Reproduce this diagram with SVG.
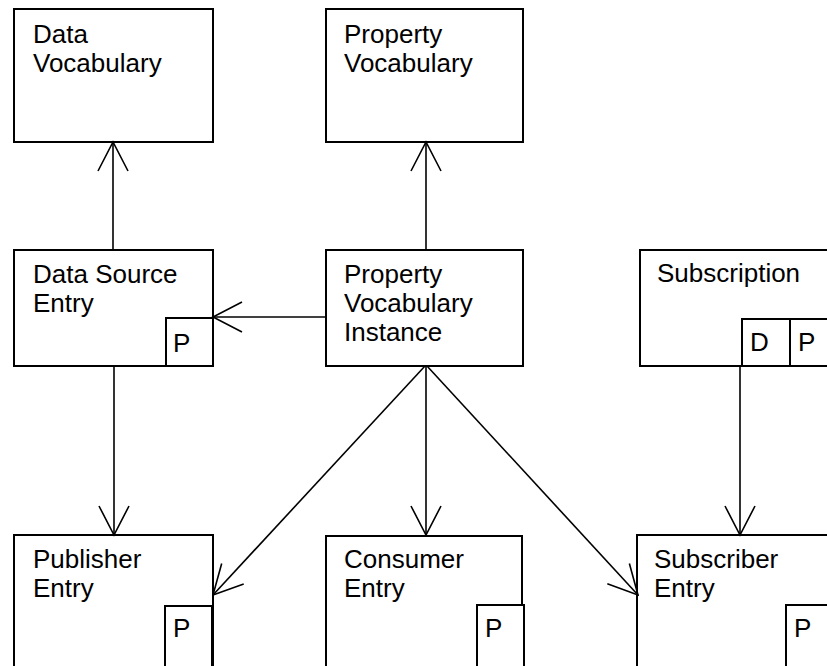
<svg xmlns="http://www.w3.org/2000/svg" width="827" height="666" viewBox="0 0 827 666">
  <defs>
    <style>
      .box { fill: #fff; stroke: #000; stroke-width: 2; }
      .tag { fill: #fff; stroke: #000; stroke-width: 2; }
      .label { font-family: "Liberation Sans", Arial, sans-serif; font-size: 26px; fill: #000; }
      .conn { fill: none; stroke: #000; stroke-width: 1.6; }
    </style>
    <marker id="open" viewBox="0 0 32 32" refX="30" refY="16" markerWidth="32" markerHeight="32" markerUnits="userSpaceOnUse" orient="auto">
      <path d="M1,1 L30,16 L1,31" fill="none" stroke="#000" stroke-width="1.6"/>
    </marker>
  </defs>
  <rect width="827" height="666" fill="#fff"/>

  <g id="data-vocabulary">
    <rect class="box" x="14" y="9" width="199" height="133"/>
    <text class="label" x="33" y="43">Data</text>
    <text class="label" x="33" y="72">Vocabulary</text>
  </g>

  <g id="property-vocabulary">
    <rect class="box" x="326" y="9" width="197" height="133"/>
    <text class="label" x="344" y="43">Property</text>
    <text class="label" x="344" y="72">Vocabulary</text>
  </g>

  <g id="data-source-entry">
    <rect class="box" x="14" y="250" width="199" height="116"/>
    <text class="label" x="33" y="283">Data Source</text>
    <text class="label" x="33" y="312">Entry</text>
    <rect class="tag" x="166" y="318" width="47" height="48"/>
    <text class="label" x="173" y="352">P</text>
  </g>

  <g id="property-vocabulary-instance">
    <rect class="box" x="326" y="250" width="197" height="116"/>
    <text class="label" x="344" y="283">Property</text>
    <text class="label" x="344" y="312">Vocabulary</text>
    <text class="label" x="344" y="341">Instance</text>
  </g>

  <g id="subscription">
    <rect class="box" x="640" y="250" width="200" height="116"/>
    <text class="label" x="657" y="282">Subscription</text>
    <rect class="tag" x="742" y="319" width="48" height="47"/>
    <rect class="tag" x="790" y="319" width="48" height="47"/>
    <text class="label" x="750" y="351">D</text>
    <text class="label" x="798" y="351">P</text>
  </g>

  <g id="publisher-entry">
    <rect class="box" x="14" y="535" width="199" height="140"/>
    <text class="label" x="33" y="568">Publisher</text>
    <text class="label" x="33" y="597">Entry</text>
    <rect class="tag" x="165" y="606" width="47" height="70"/>
    <text class="label" x="173" y="637">P</text>
  </g>

  <g id="consumer-entry">
    <rect class="box" x="326" y="536" width="196" height="140"/>
    <text class="label" x="344" y="568">Consumer</text>
    <text class="label" x="344" y="597">Entry</text>
    <rect class="tag" x="477" y="605" width="47" height="70"/>
    <text class="label" x="485" y="637">P</text>
  </g>

  <g id="subscriber-entry">
    <rect class="box" x="637" y="535" width="200" height="140"/>
    <text class="label" x="654" y="568">Subscriber</text>
    <text class="label" x="654" y="597">Entry</text>
    <rect class="tag" x="786" y="605" width="47" height="70"/>
    <text class="label" x="794" y="637">P</text>
  </g>

  <g id="connectors">
    <line class="conn" x1="113" y1="249" x2="113" y2="142" marker-end="url(#open)"/>
    <line class="conn" x1="426" y1="249" x2="426" y2="142" marker-end="url(#open)"/>
    <line class="conn" x1="326" y1="317" x2="213" y2="317" marker-end="url(#open)"/>
    <line class="conn" x1="114" y1="366" x2="114" y2="535" marker-end="url(#open)"/>
    <line class="conn" x1="426" y1="366" x2="426" y2="535" marker-end="url(#open)"/>
    <line class="conn" x1="425" y1="366" x2="213" y2="595" marker-end="url(#open)"/>
    <line class="conn" x1="427" y1="366" x2="638" y2="595" marker-end="url(#open)"/>
    <line class="conn" x1="740" y1="366" x2="740" y2="535" marker-end="url(#open)"/>
  </g>
</svg>
